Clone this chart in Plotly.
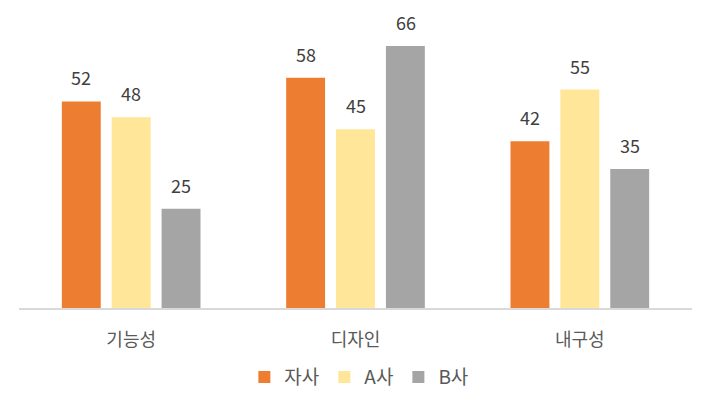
import plotly.graph_objects as go

categories = ["기능성", "디자인", "내구성"]
series_names = ["자사", "A사", "B사"]
own_values = [52, 58, 42]
a_values = [48, 45, 55]
b_values = [25, 66, 35]
colors = ["#ED7D31", "#FFE699", "#A5A5A5"]

all_values = [own_values, a_values, b_values]
font_family = "Noto Sans CJK KR, Malgun Gothic, sans-serif"

fig = go.Figure()
for name, vals, col in zip(series_names, all_values, colors):
    fig.add_trace(go.Bar(name=name, x=categories, y=vals, marker_color=col,
                         marker_line_width=0))

offsets = [-50, 0, 50]
for vals, off in zip(all_values, offsets):
    for c, v in zip(categories, vals):
        fig.add_annotation(x=c, y=v, text=str(v), showarrow=False,
                           xshift=off, yshift=24, yanchor="middle",
                           font=dict(size=18, color="#404040", family=font_family))

fig.update_layout(
    width=715, height=410,
    margin=dict(l=19, r=23, t=30, b=102),
    paper_bgcolor="white", plot_bgcolor="white",
    barmode="group", bargap=0.333, bargroupgap=0.22,
    font=dict(family=font_family, color="#595959"),
    showlegend=True,
    legend=dict(orientation="h", x=0.505, xanchor="center", y=-0.18, yanchor="top",
                font=dict(size=19, color="#595959"), itemwidth=30,
                traceorder="normal"),
    xaxis=dict(showline=True, linecolor="#D9D9D9", linewidth=2,
               tickfont=dict(size=18, color="#595959"), ticks="",
               ticklabelstandoff=14, showgrid=False),
    yaxis=dict(range=[0, 70], visible=False, showgrid=False, zeroline=False),
)

fig.write_html("out.html", config={"displayModeBar": False},
               post_script="document.body.style.margin='0';document.body.style.padding='0';")
